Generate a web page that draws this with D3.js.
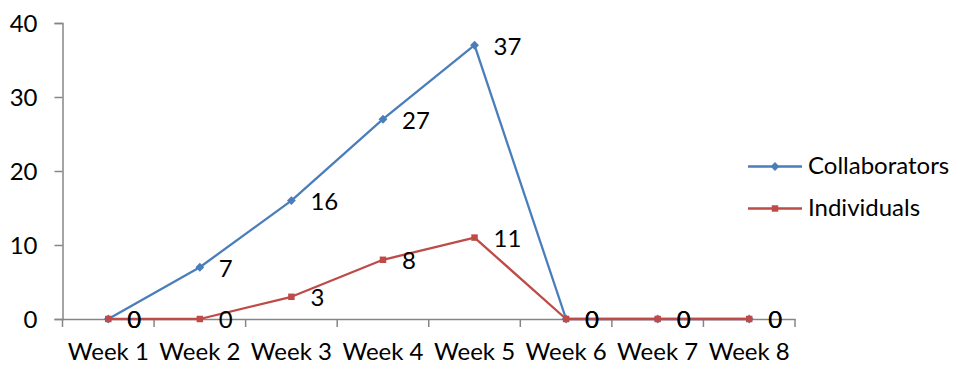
<!DOCTYPE html>
<html>
<head>
<meta charset="utf-8">
<script src="https://cdn.jsdelivr.net/npm/d3@7"></script>
<style>
  html, body { margin: 0; padding: 0; background: #fff; }
  svg { display: block; font-family: Lato, "Open Sans", sans-serif; }
</style>
</head>
<body>
<svg id="chart" width="955" height="366"></svg>
<script>
const weeks = ["Week 1", "Week 2", "Week 3", "Week 4", "Week 5", "Week 6", "Week 7", "Week 8"];
const collaborators = [0, 7, 16, 27, 37, 0, 0, 0];
const individuals = [0, 0, 3, 8, 11, 0, 0, 0];
const yTicks = [0, 10, 20, 30, 40];
const seriesNames = ["Collaborators", "Individuals"];
const seriesColors = ["#4a7ebb", "#be4b48"];

const svg = d3.select("#chart");
const plotLeft = 62.5, plotRight = 795, plotTop = 23, plotBottom = 319;
const fontSize = 24;
const axisColor = "#868686";

const x = d3.scaleBand().domain(weeks).range([plotLeft, plotRight]).padding(0);
const y = d3.scaleLinear().domain([0, 40]).range([plotBottom, plotTop]);

// Y axis
const yAxis = svg.append("g")
  .attr("transform", `translate(${plotLeft},0)`)
  .call(d3.axisLeft(y).tickValues(yTicks).tickSize(8).tickPadding(17));
yAxis.select(".domain").attr("stroke", axisColor).attr("stroke-width", 1.5);
yAxis.selectAll(".tick line").attr("stroke", axisColor).attr("stroke-width", 1.5);
yAxis.selectAll(".tick text").attr("font-size", fontSize).attr("font-family", "Lato").attr("fill", "#000").attr("dy", "0.35em");

// X axis
const xAxis = svg.append("g")
  .attr("transform", `translate(0,${plotBottom})`)
  .call(d3.axisBottom(x).tickSize(0).tickPadding(33));
xAxis.select(".domain").attr("stroke", axisColor).attr("stroke-width", 1.5);
xAxis.selectAll(".tick text").attr("font-size", fontSize).attr("font-family", "Lato").attr("fill", "#000").attr("dy", "0.35em");
const boundaries = d3.range(weeks.length + 1).map(i => plotLeft + i * x.step());
xAxis.selectAll(".bnd").data(boundaries).enter().append("line")
  .attr("class", "bnd")
  .attr("x1", d => d).attr("x2", d => d)
  .attr("y1", 0).attr("y2", 8)
  .attr("stroke", axisColor).attr("stroke-width", 1.5);

const cx = w => x(w) + x.bandwidth() / 2;
const line = d3.line().x((d, i) => cx(weeks[i])).y(d => y(d));

const allSeries = [collaborators, individuals];
const diamondType = d3.symbolDiamond2 || d3.symbolDiamond;
const diamond = d3.symbol().type(diamondType).size(50);
const square = d3.symbol().type(d3.symbolSquare).size(42);

allSeries.forEach((vals, si) => {
  const g = svg.append("g");
  g.append("path").datum(vals)
    .attr("d", line)
    .attr("fill", "none")
    .attr("stroke", seriesColors[si])
    .attr("stroke-width", 2.3)
    .attr("stroke-linejoin", "round");
  g.selectAll("path.mk").data(vals).enter().append("path")
    .attr("class", "mk")
    .attr("transform", (d, i) => `translate(${cx(weeks[i])},${y(d)})`)
    .attr("d", si === 0 ? diamond : square)
    .attr("fill", seriesColors[si]);
});

allSeries.forEach((vals, si) => {
  svg.append("g").selectAll("text").data(vals).enter().append("text")
    .attr("x", (d, i) => cx(weeks[i]) + 19)
    .attr("y", d => y(d) + 1)
    .attr("dy", "0.35em")
    .attr("font-size", fontSize)
    .attr("font-family", "Lato")
    .attr("fill", "#000")
    .text(d => d);
});

const legendY = [166.5, 208.5];
seriesNames.forEach((name, si) => {
  const g = svg.append("g");
  g.append("line")
    .attr("x1", 748).attr("x2", 802)
    .attr("y1", legendY[si]).attr("y2", legendY[si])
    .attr("stroke", seriesColors[si]).attr("stroke-width", 2.3);
  g.append("path")
    .attr("transform", `translate(775,${legendY[si]})`)
    .attr("d", si === 0 ? diamond : square)
    .attr("fill", seriesColors[si]);
  g.append("text")
    .attr("x", 808).attr("y", legendY[si] - 1)
    .attr("dy", "0.35em")
    .attr("font-size", fontSize)
    .attr("font-family", "Lato")
    .attr("fill", "#000")
    .text(name);
});
</script>
</body>
</html>
